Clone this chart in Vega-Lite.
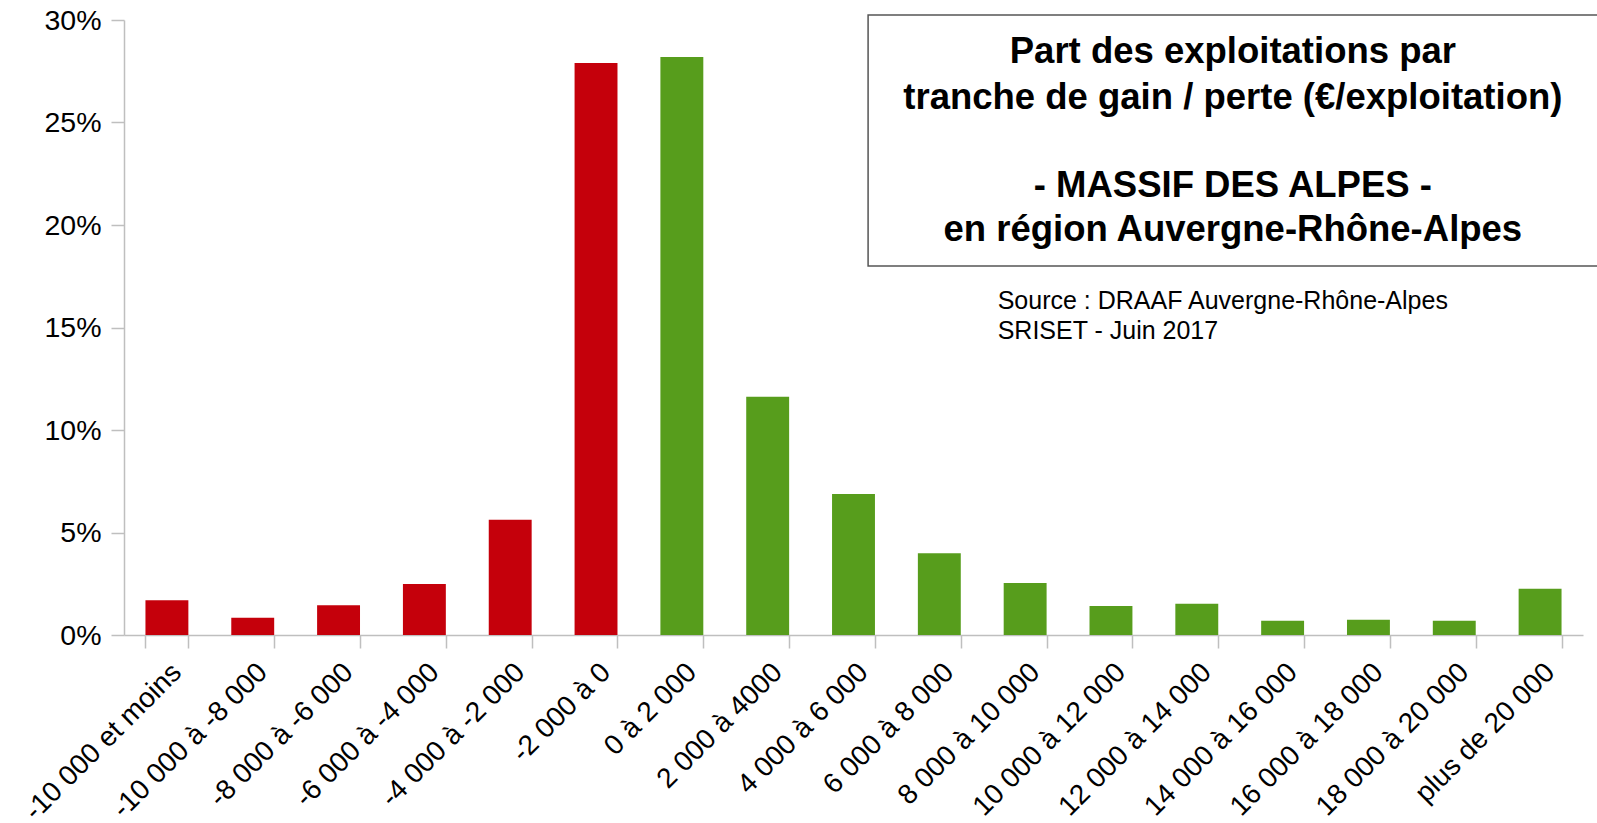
{
  "$schema": "https://vega.github.io/schema/vega-lite/v6.json",
  "width": 1459,
  "height": 615,
  "autosize": {"type": "none"},
  "padding": {"left": 124, "top": 20, "right": 14, "bottom": 188},
  "background": "white",
  "config": {"view": {"stroke": null}, "font": "Liberation Sans"},
  "datasets": {
    "bars": [
      {"tranche": "-10 000 et moins", "part": 0.0170, "signe": "perte"},
      {"tranche": "-10 000 à -8 000", "part": 0.0084, "signe": "perte"},
      {"tranche": "-8 000 à -6 000", "part": 0.0145, "signe": "perte"},
      {"tranche": "-6 000 à -4 000", "part": 0.0249, "signe": "perte"},
      {"tranche": "-4 000 à -2 000", "part": 0.0562, "signe": "perte"},
      {"tranche": "-2 000 à 0", "part": 0.2790, "signe": "perte"},
      {"tranche": "0 à 2 000", "part": 0.2820, "signe": "gain"},
      {"tranche": "2 000 à 4000", "part": 0.1162, "signe": "gain"},
      {"tranche": "4 000 à 6 000", "part": 0.0688, "signe": "gain"},
      {"tranche": "6 000 à 8 000", "part": 0.0399, "signe": "gain"},
      {"tranche": "8 000 à 10 000", "part": 0.0254, "signe": "gain"},
      {"tranche": "10 000 à 12 000", "part": 0.0142, "signe": "gain"},
      {"tranche": "12 000 à 14 000", "part": 0.0152, "signe": "gain"},
      {"tranche": "14 000 à 16 000", "part": 0.0069, "signe": "gain"},
      {"tranche": "16 000 à 18 000", "part": 0.0074, "signe": "gain"},
      {"tranche": "18 000 à 20 000", "part": 0.0069, "signe": "gain"},
      {"tranche": "plus de 20 000", "part": 0.0226, "signe": "gain"}
    ],
    "cadre": [{"gx0": 8.67, "gx1": 17.4, "gy0": 0.18, "gy1": 0.3024}],
    "titre": [
      {"texte": "Part des exploitations par", "gx": 12.92, "gy": 0.279},
      {"texte": "tranche de gain / perte (€/exploitation)", "gx": 12.92, "gy": 0.2566},
      {"texte": "- MASSIF DES ALPES -", "gx": 12.92, "gy": 0.2137},
      {"texte": "en région Auvergne-Rhône-Alpes", "gx": 12.92, "gy": 0.1922}
    ],
    "source": [
      {"texte": "Source : DRAAF Auvergne-Rhône-Alpes", "gx": 10.18, "gy": 0.159},
      {"texte": "SRISET - Juin 2017", "gx": 10.18, "gy": 0.1444}
    ]
  },
  "layer": [
    {
      "data": {"name": "bars"},
      "mark": {"type": "bar"},
      "encoding": {
        "x": {
          "field": "tranche",
          "type": "nominal",
          "sort": null,
          "scale": {"paddingInner": 0.5, "paddingOuter": 0.25},
          "axis": {
            "title": null,
            "tickBand": "extent",
            "labelAngle": -45,
            "labelFontSize": 28,
            "labelColor": "black",
            "labelPadding": 10,
            "labelLimit": 500,
            "labelOverlap": false,
            "tickSize": 13,
            "tickColor": "#BFBFBF",
            "tickWidth": 1.5,
            "domainColor": "#BFBFBF",
            "domainWidth": 1.5,
            "grid": false
          }
        },
        "y": {
          "field": "part",
          "type": "quantitative",
          "scale": {"domain": [0, 0.3], "nice": false},
          "axis": {
            "title": null,
            "values": [0, 0.05, 0.1, 0.15, 0.2, 0.25, 0.3],
            "format": ".0%",
            "labelFontSize": 28.5,
            "labelColor": "black",
            "labelPadding": 10,
            "tickSize": 13,
            "tickColor": "#BFBFBF",
            "tickWidth": 1.5,
            "domainColor": "#BFBFBF",
            "domainWidth": 1.5,
            "grid": false
          }
        },
        "color": {
          "field": "signe",
          "type": "nominal",
          "scale": {"domain": ["perte", "gain"], "range": ["#C5000B", "#579D1C"]},
          "legend": null
        }
      }
    },
    {
      "data": {"name": "cadre"},
      "mark": {"type": "rect", "fill": null, "stroke": "#555555", "strokeWidth": 1.5, "clip": false},
      "encoding": {
        "x": {"field": "gx0", "type": "quantitative", "scale": {"domain": [0, 17], "nice": false}, "axis": null},
        "x2": {"field": "gx1"},
        "y": {"field": "gy0", "type": "quantitative"},
        "y2": {"field": "gy1"}
      }
    },
    {
      "data": {"name": "titre"},
      "mark": {"type": "text", "fontSize": 36.5, "fontWeight": "bold", "align": "center", "baseline": "alphabetic", "color": "black"},
      "encoding": {
        "x": {"field": "gx", "type": "quantitative", "scale": {"domain": [0, 17], "nice": false}, "axis": null},
        "y": {"field": "gy", "type": "quantitative"},
        "text": {"field": "texte"}
      }
    },
    {
      "data": {"name": "source"},
      "mark": {"type": "text", "fontSize": 25, "align": "left", "baseline": "alphabetic", "color": "black"},
      "encoding": {
        "x": {"field": "gx", "type": "quantitative", "scale": {"domain": [0, 17], "nice": false}, "axis": null},
        "y": {"field": "gy", "type": "quantitative"},
        "text": {"field": "texte"}
      }
    }
  ],
  "resolve": {"scale": {"x": "independent"}}
}
